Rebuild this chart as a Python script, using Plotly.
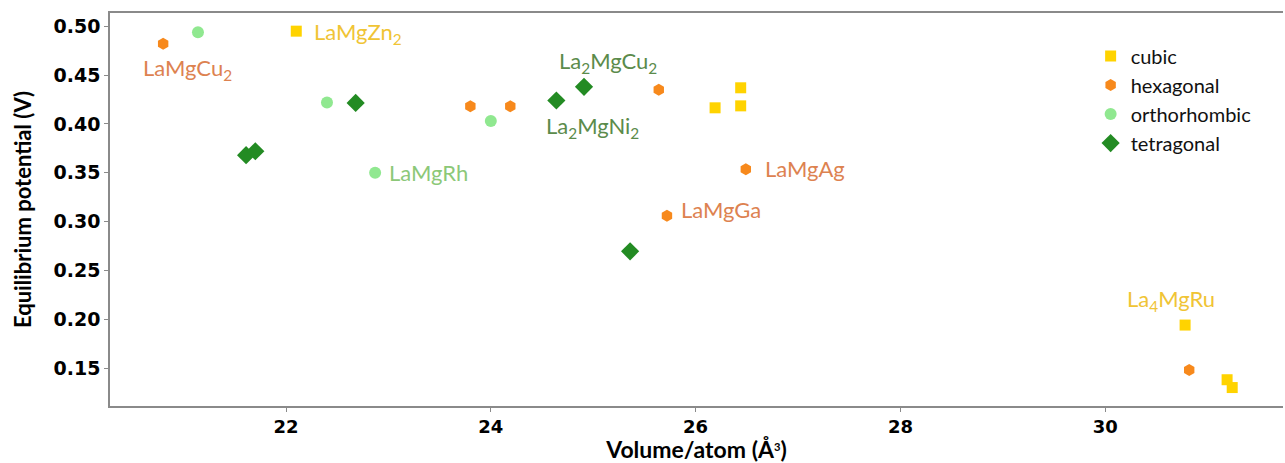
import plotly.graph_objects as go

# ---- data ----
cubic_x = [22.10, 26.19, 26.44, 26.44, 30.78, 31.19, 31.24]
cubic_y = [0.495, 0.4165, 0.437, 0.4185, 0.194, 0.138, 0.130]

hex_x = [20.80, 23.80, 24.19, 25.64, 26.49, 25.72, 30.82]
hex_y = [0.482, 0.418, 0.418, 0.435, 0.3535, 0.306, 0.148]

ortho_x = [21.14, 22.40, 22.87, 24.00]
ortho_y = [0.494, 0.422, 0.350, 0.403]

tetra_x = [21.61, 21.70, 22.68, 24.64, 24.91, 25.36]
tetra_y = [0.368, 0.372, 0.4215, 0.424, 0.438, 0.2695]

series_names = ["cubic", "hexagonal", "orthorhombic", "tetragonal"]

# labels: (text, series, index in series)
label_texts = ["LaMgCu<sub>2</sub>", "LaMgZn<sub>2</sub>", "La<sub>2</sub>MgCu<sub>2</sub>",
               "La<sub>2</sub>MgNi<sub>2</sub>", "LaMgRh", "LaMgAg", "LaMgGa", "La<sub>4</sub>MgRu"]
label_series = ["hexagonal", "cubic", "tetragonal", "tetragonal", "orthorhombic",
                "hexagonal", "hexagonal", "cubic"]
label_index = [0, 0, 4, 3, 2, 4, 5, 4]

x_ticks = [22, 24, 26, 28, 30]
y_ticks = [0.15, 0.20, 0.25, 0.30, 0.35, 0.40, 0.45, 0.50]
y_tick_text = ["0.15", "0.20", "0.25", "0.30", "0.35", "0.40", "0.45", "0.50"]

# ---- styles ----
data = {
    "cubic": (cubic_x, cubic_y),
    "hexagonal": (hex_x, hex_y),
    "orthorhombic": (ortho_x, ortho_y),
    "tetragonal": (tetra_x, tetra_y),
}
marker_style = {
    "cubic": dict(symbol="square", color="#FFD300", size=11),
    "hexagonal": dict(symbol="hexagon", color="#F7891C", size=12),
    "orthorhombic": dict(symbol="circle", color="#90E890", size=12),
    "tetragonal": dict(symbol="diamond", color="#238B23", size=14),
}
label_color = {
    "cubic": "#F0C435",
    "hexagonal": "#DD8250",
    "orthorhombic": "#8CC878",
    "tetragonal": "#5B8B4B",
}
# label placement (pixel offsets from point, anchor)
label_place = [
    (24, -25, "center"),
    (16, -2, "left"),
    (24, 25, "center"),
    (36, -27, "center"),
    (12, 0, "left"),
    (17, 1, "left"),
    (12, 6, "left"),
    (-14, 25, "center"),
]

fig = go.Figure()
for i, name in enumerate(series_names):
    xs, ys = data[name]
    fig.add_trace(go.Scatter(
        x=xs, y=ys, mode="markers", name=name, legendgroup=name,
        marker=dict(**marker_style[name], line=dict(width=0)),
    ))

for text, ser, idx, (dx, dy, anc) in zip(label_texts, label_series, label_index, label_place):
    xs, ys = data[ser]
    fig.add_annotation(
        x=xs[idx], y=ys[idx], xref="x", yref="y", text=text, showarrow=False,
        xanchor=anc, yanchor="middle", xshift=dx, yshift=dy,
        font=dict(family="Lato", size=22, color=label_color[ser]),
    )

fig.update_layout(
    width=1285, height=463,
    margin=dict(l=110, r=2, t=13, b=57),
    paper_bgcolor="white", plot_bgcolor="white",
    showlegend=True,
    legend=dict(x=0.836, y=0.94, xanchor="left", yanchor="top",
                font=dict(family="Lato", size=20, color="#111111"),
                bgcolor="rgba(0,0,0,0)", tracegroupgap=0, itemwidth=30),
    xaxis=dict(
        range=[20.281, 31.736], tickvals=x_ticks, ticktext=[str(v) for v in x_ticks],
        showgrid=False, zeroline=False, showline=True, linecolor="#8a8a8a", linewidth=1.5,
        mirror=True, ticks="outside", ticklen=4, tickcolor="#8a8a8a",
        tickfont=dict(family="DejaVu Sans", size=18, color="black", weight="bold"),
        title=dict(text="<b>Volume/atom (Å<span style='font-size:16px'><sup>3</sup></span>)</b>",
                   standoff=9, font=dict(family="Lato", size=23, color="black")),
    ),
    yaxis=dict(
        range=[0.1111, 0.5136], tickvals=y_ticks, ticktext=y_tick_text,
        showgrid=False, zeroline=False, showline=True, linecolor="#8a8a8a", linewidth=1.5,
        ticks="outside", ticklen=4, tickcolor="#8a8a8a",
        tickfont=dict(family="DejaVu Sans", size=19, color="black", weight="bold"),
        title=dict(text="<b>Equilibrium potential (V)</b>", standoff=16,
                   font=dict(family="Lato", size=22, color="black")),
    ),
)

fig.write_html("out.html")
